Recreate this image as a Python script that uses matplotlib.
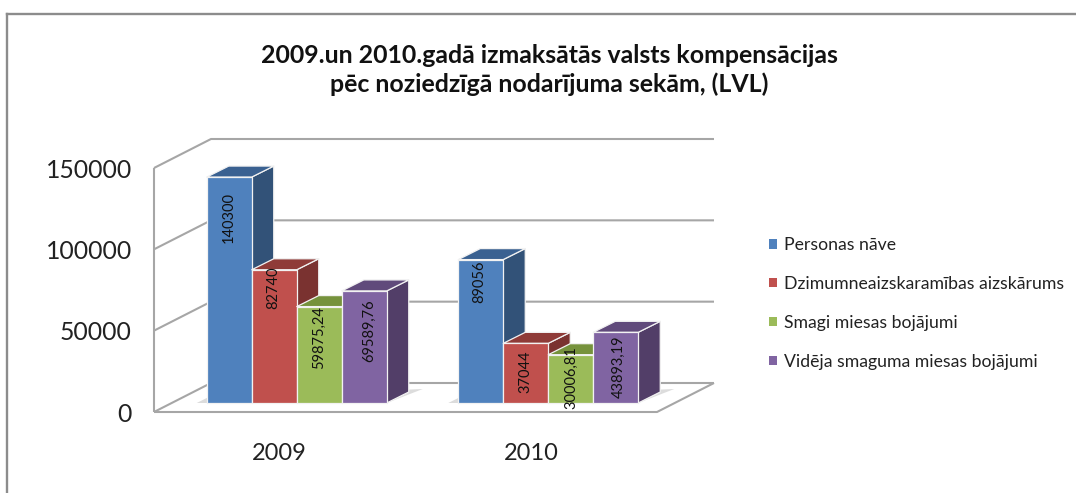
import matplotlib
matplotlib.use('Agg')
import matplotlib.pyplot as plt
from matplotlib.lines import Line2D
from matplotlib.patches import Patch, Polygon

years = ['2009', '2010']
series_names = ['Personas nāve', 'Dzimumneaizskaramības aizskārums',
                'Smagi miesas bojājumi', 'Vidēja smaguma miesas bojājumi']
values_2009 = [140300, 82740, 59875.24, 69589.76]
values_2010 = [89056, 37044, 30006.81, 43893.19]
labels_2009 = ['140300', '82740', '59875,24', '69589,76']
labels_2010 = ['89056', '37044', '30006,81', '43893,19']
y_ticks = [0, 50000, 100000, 150000]

front_colors = ['#4f81bd', '#c0504d', '#9bbb59', '#8064a2']
side_colors = ['#325278', '#7a3230', '#627a38', '#523e68']
top_colors = ['#3a6191', '#8f3b38', '#76923c', '#604a7b']

W, H = 1076, 493
# front plane of the 3d box, in image pixels
LEFT, RIGHT, BOTTOM, TOP = 154, 657, 412, 168
# one pixel in data units
PX = 2.0 / (RIGHT - LEFT)
PY = 150000.0 / (BOTTOM - TOP)
WALL_DX, WALL_DY = 57, 29
BAR_DX, BAR_DY = 22, 11
BAR_W = 45
SHIFT_X, SHIFT_Y = 17, 9

# label nudges in pixels: (along x from bar centre, down from bar top)
label_nudge_2009 = [(0, 40), (-1, 18), (0, 31), (5, 40)]
label_nudge_2010 = [(-2, 22), (0, 28), (1, 23), (3, 34)]

fig = plt.figure(figsize=(W / 100, H / 100), dpi=100, facecolor='white')
plt.rcParams['font.family'] = ['Lato', 'DejaVu Sans']
ax = fig.add_axes([LEFT / W, 1 - BOTTOM / H, (RIGHT - LEFT) / W, (BOTTOM - TOP) / H])
ax.set_xlim(-0.5, 1.5)
ax.set_ylim(0, 150000)
ax.patch.set_visible(False)
for s in ax.spines.values():
    s.set_visible(False)

# outer frame, runs off the right and bottom of the image
frame = dict(color='#8c8c8c', lw=1.7, transform=fig.transFigure)
fig.add_artist(Line2D([7 / W, 7 / W], [0, 1 - 14 / H], **frame))
fig.add_artist(Line2D([7 / W, 1], [1 - 14 / H, 1 - 14 / H], **frame))

# walls and gridlines
grid = dict(color='#a6a6a6', lw=1.5, clip_on=False, zorder=1, solid_capstyle='butt')
x0, x1 = -0.5, 1.5
wx, wy = WALL_DX * PX, WALL_DY * PY
ax.plot([x0, x0], [0, 150000], **grid)
for t in y_ticks:
    ax.plot([x0, x0 + wx, x1 + wx], [t, t + wy, t + wy], **grid)
ax.plot([x0, x1, x1 + wx], [0, 0, wy], **grid)


def draw_group(center, values, labels, nudges):
    base = SHIFT_Y * PY
    dx, dy = BAR_DX * PX, BAR_DY * PY
    w = BAR_W * PX
    left0 = center + SHIFT_X * PX - 2 * w
    # soft shadow on the floor
    right_end = left0 + 4 * w
    ax.add_patch(Polygon([(left0 - 10 * PX, base), (left0, base + 5 * PY),
                          (right_end + dx + 14 * PX, base + 14 * PY), (right_end, base)],
                         facecolor='#dcdcdc', edgecolor='none', clip_on=False, zorder=2))
    for k, v in enumerate(values):
        l = left0 + k * w
        r = l + w
        top = base + v * 0.99
        edge = dict(edgecolor='#f2f2f2', lw=0.9, clip_on=False, zorder=3 + k, joinstyle='round')
        ax.add_patch(Polygon([(r, base), (r + dx, base + dy), (r + dx, top + dy), (r, top)],
                             facecolor=side_colors[k], **edge))
        ax.add_patch(Polygon([(l, top), (l + dx, top + dy), (r + dx, top + dy), (r, top)],
                             facecolor=top_colors[k], **edge))
        ax.add_patch(Polygon([(l, base), (r, base), (r, top), (l, top)],
                             facecolor=front_colors[k], **edge))
    for k, v in enumerate(values):
        l = left0 + k * w
        top = base + v * 0.99
        ax.text(l + w / 2 + nudges[k][0] * PX, top - nudges[k][1] * PY, labels[k],
                rotation=90, ha='center', va='center', fontsize=10.5, color='#111111',
                zorder=10, clip_on=False)


draw_group(0, values_2009, labels_2009, label_nudge_2009)
draw_group(1, values_2010, labels_2010, label_nudge_2010)

ax.set_xticks([0, 1], years)
ax.set_yticks(y_ticks, [str(t) for t in y_ticks])
ax.tick_params(axis='both', length=0, labelsize=17.8, labelcolor='#222222')
ax.tick_params(axis='y', pad=16)
ax.tick_params(axis='x', pad=22)
for t in ax.get_xticklabels():
    t.set_fontsize(17)

fig.text(549 / W, 1 - 70 / H, '2009.un 2010.gadā izmaksātās valsts kompensācijas\npēc noziedzīgā nodarījuma sekām, (LVL)',
         ha='center', va='center', fontsize=17.9, fontweight='bold', color='#111111', linespacing=1.25)

handles = [Patch(facecolor=c, edgecolor='none') for c in front_colors]
fig.legend(handles, series_names, loc='upper left', bbox_to_anchor=(764 / W, 1 - 232 / H),
           frameon=False, fontsize=12.7, handlelength=0.42, handleheight=0.42,
           handletextpad=0.42, labelspacing=1.3, labelcolor='#222222',
           borderpad=0.3, borderaxespad=0)

fig.savefig('out.png', dpi=100, facecolor='white')
